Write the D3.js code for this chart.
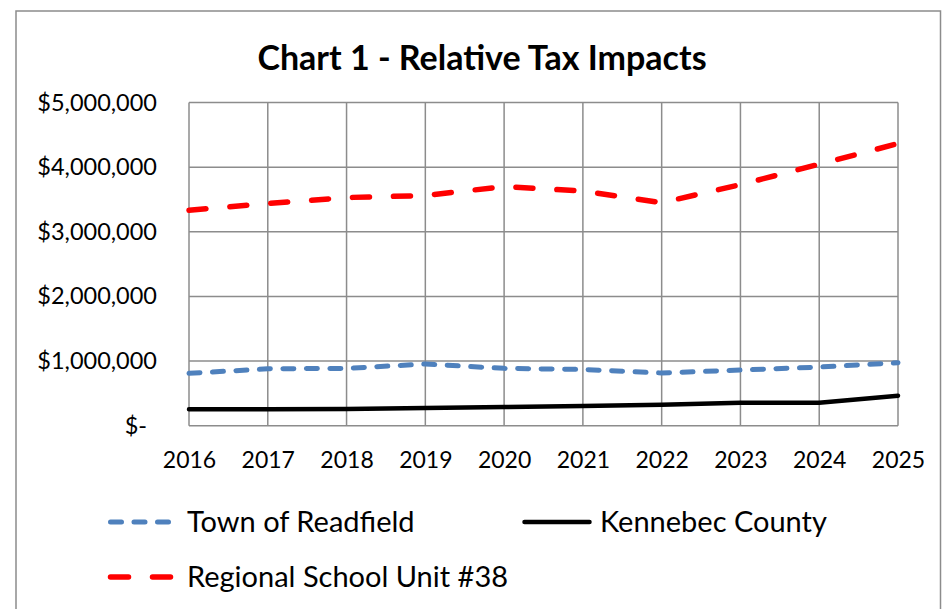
<!DOCTYPE html>
<html><head><meta charset="utf-8">
<script src="https://cdn.jsdelivr.net/npm/d3@7"></script>
<style>body{margin:0;background:#fff}svg{display:block}</style>
</head><body>
<svg id="c" width="950" height="609"></svg>
<script>
const years = [2016,2017,2018,2019,2020,2021,2022,2023,2024,2025];
const readfield = [810000,880000,887000,954000,887000,870000,815000,861000,907000,974000];
const kennebec = [253000,255000,258000,273000,290000,305000,325000,355000,355000,464000];
const rsu38 = [3334000,3437000,3530000,3560000,3700000,3630000,3450000,3730000,4045000,4365000];
const yTicks = [0,1000000,2000000,3000000,4000000,5000000];
const title = "Chart 1 - Relative Tax Impacts";
const seriesNames = ["Town of Readfield","Kennebec County","Regional School Unit #38"];

const svg = d3.select("#c");
const FONT = "Lato, 'Open Sans', sans-serif";
const m = {l:189, r:898, t:102.5, b:425.7};

// outer chart frame
svg.append("rect").attr("x",16).attr("y",11).attr("width",924.5).attr("height",620)
  .attr("fill","#fff").attr("stroke","#8c8c8c").attr("stroke-width",1.5);

const x = d3.scalePoint().domain(years).range([m.l,m.r]);
const y = d3.scaleLinear().domain([0,5000000]).range([m.b,m.t]);

// gridlines
const grid = svg.append("g");
grid.selectAll(".h").data(yTicks).join("line")
  .attr("x1",m.l).attr("x2",m.r).attr("y1",d=>y(d)).attr("y2",d=>y(d))
  .attr("stroke","#8c8c8c").attr("stroke-width",1.5);
grid.selectAll(".v").data(years).join("line")
  .attr("x1",d=>x(d)).attr("x2",d=>x(d)).attr("y1",m.t).attr("y2",m.b)
  .attr("stroke","#8c8c8c").attr("stroke-width",1.5);

// axes (labels only)
const fmt = d => d===0 ? "$-" : "$" + d3.format(",")(d);
const yAxis = svg.append("g").attr("transform",`translate(${m.l},0)`)
  .call(d3.axisLeft(y).tickValues(yTicks).tickFormat(fmt).tickSize(0).tickPadding(32));
yAxis.select(".domain").remove();
yAxis.selectAll("text").attr("font-family",FONT).attr("font-size",23.5).attr("fill","#000")
  .attr("dx", d => d===0 ? -10 : 0);

const xAxis = svg.append("g").attr("transform",`translate(0,${m.b})`)
  .call(d3.axisBottom(x).tickFormat(d3.format("d")).tickSize(0).tickPadding(26));
xAxis.select(".domain").remove();
xAxis.selectAll("text").attr("font-family",FONT).attr("font-size",23).attr("fill","#000");

// lines
const line = d3.line().x((d,i)=>x(years[i])).y(d=>y(d));
const styles = [
  {data:readfield, color:"#4F81BD", w:5, dash:"11 12.5", legDash:"11 12.5"},
  {data:kennebec, color:"#000000", w:4.5, dash:null, legDash:null},
  {data:rsu38, color:"#FF0000", w:5.5, dash:"17 24", legDash:"18 24"}
];
styles.forEach(s=>{
  svg.append("path").datum(s.data).attr("d",line).attr("fill","none")
    .attr("stroke",s.color).attr("stroke-width",s.w)
    .attr("stroke-dasharray",s.dash).attr("stroke-linecap","round").attr("stroke-linejoin","round");
});

// title
svg.append("text").attr("x",482).attr("y",70).attr("text-anchor","middle")
  .attr("font-family",FONT).attr("font-weight","bold").attr("font-size",34)
  .text(title);

// legend
const leg = [
  {name:seriesNames[0], s:styles[0], lx:108, ly:522, len:65, gap:14},
  {name:seriesNames[1], s:styles[1], lx:522, ly:522, len:70, gap:8},
  {name:seriesNames[2], s:styles[2], lx:108, ly:577, len:65, gap:14}
];
leg.forEach(L=>{
  const x2 = L.lx + L.len;
  svg.append("line").attr("x1",L.lx+2.5).attr("x2",x2-2.5).attr("y1",L.ly).attr("y2",L.ly)
    .attr("stroke",L.s.color).attr("stroke-width",L.s.w)
    .attr("stroke-dasharray",L.s.legDash).attr("stroke-linecap","round");
  svg.append("text").attr("x",x2+L.gap).attr("y",L.ly+10)
    .attr("font-family",FONT).attr("font-size",29).attr("fill","#000").text(L.name);
});
</script>
</body></html>
